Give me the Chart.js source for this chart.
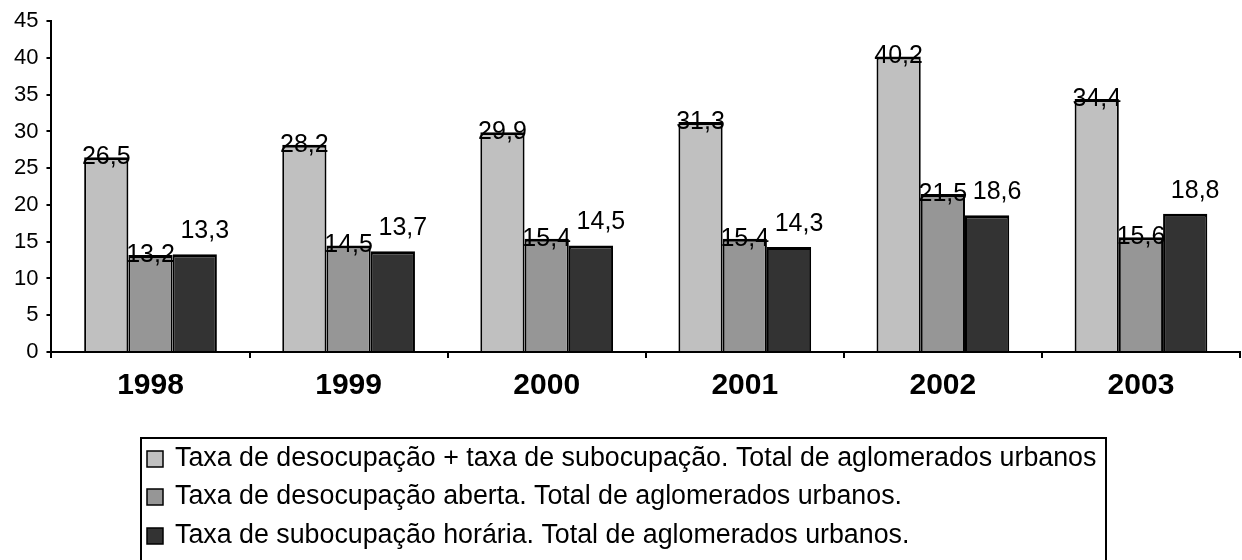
<!DOCTYPE html>
<html>
<head>
<meta charset="utf-8">
<script src="https://cdn.jsdelivr.net/npm/chart.js@4.4.0/dist/chart.umd.min.js"></script>
<style>
  html, body { margin: 0; padding: 0; background: #fff; }
  #wrap { width: 1242px; height: 560px; }
</style>
</head>
<body>
<div id="wrap"><canvas id="myChart" width="1242" height="560"></canvas></div>
<script>
const anos = ['1998', '1999', '2000', '2001', '2002', '2003'];
const desocupSubocup = [26.5, 28.2, 29.9, 31.3, 40.2, 34.4];
const desocupAberta = [13.2, 14.5, 15.4, 15.4, 21.5, 15.6];
const subocupHoraria = [13.3, 13.7, 14.5, 14.3, 18.6, 18.8];
const nomes = [
  'Taxa de desocupação + taxa de subocupação. Total de aglomerados urbanos',
  'Taxa de desocupação aberta. Total de aglomerados urbanos.',
  'Taxa de subocupação horária. Total de aglomerados urbanos.'
];
const cores = ['#c0c0c0', '#969696', '#333333'];

const fonte = 'Arial, "Liberation Sans", sans-serif';
Chart.defaults.font.family = fonte;
Chart.defaults.font.size = 22;
Chart.defaults.color = '#000';

// rótulos de valor (sem o plugin datalabels)
const rotulos = {
  id: 'rotulos',
  afterDatasetsDraw(chart, args, opts) {
    const ctx = chart.ctx;
    ctx.save();
    ctx.font = '25px ' + fonte;
    ctx.fillStyle = '#000';
    ctx.textAlign = 'center';
    ctx.textBaseline = 'middle';
    chart.data.datasets.forEach((ds, i) => {
      const off = opts.offsets[i];
      chart.getDatasetMeta(i).data.forEach((bar, j) => {
        const txt = String(ds.data[j]).replace('.', ',');
        ctx.fillText(txt, bar.x + off[0], bar.y + off[1]);
      });
    });
    ctx.restore();
  }
};

// legenda em caixa, um item por linha
const legendaCaixa = {
  id: 'legendaCaixa',
  afterDraw(chart, args, opts) {
    const ctx = chart.ctx;
    ctx.save();
    ctx.strokeStyle = '#000';
    ctx.lineWidth = 2;
    ctx.strokeRect(opts.left, opts.top, opts.right - opts.left, chart.height + 10 - opts.top);
    ctx.font = '26.8px ' + fonte;
    ctx.textBaseline = 'middle';
    ctx.textAlign = 'left';
    chart.data.datasets.forEach((ds, i) => {
      const y = opts.rows[i];
      ctx.fillStyle = ds.backgroundColor;
      ctx.fillRect(opts.left + 6, y - 8, 16, 16);
      ctx.lineWidth = 1.5;
      ctx.strokeRect(opts.left + 6, y - 8, 16, 16);
      ctx.fillStyle = '#000';
      ctx.fillText(ds.label, opts.left + 34, y);
    });
    ctx.restore();
  }
};

const borda = { top: 3, left: 2, right: 2, bottom: 0 };

new Chart(document.getElementById('myChart').getContext('2d'), {
  type: 'bar',
  data: {
    labels: anos,
    datasets: [
      { label: nomes[0], data: desocupSubocup, backgroundColor: cores[0], borderColor: '#000', borderWidth: borda },
      { label: nomes[1], data: desocupAberta, backgroundColor: cores[1], borderColor: '#000', borderWidth: borda },
      { label: nomes[2], data: subocupHoraria, backgroundColor: cores[2], borderColor: '#000', borderWidth: borda }
    ]
  },
  options: {
    responsive: false,
    animation: false,
    layout: { padding: { top: 20, left: 6, right: 2, bottom: 146 } },
    datasets: { bar: { categoryPercentage: 0.67, barPercentage: 1 } },
    scales: {
      x: {
        grid: { drawOnChartArea: false, color: '#000', lineWidth: 2, tickLength: 6 },
        border: { color: '#000', width: 2 },
        ticks: { font: { size: 30, weight: 'bold' }, padding: 10, color: '#000' }
      },
      y: {
        min: 0,
        max: 45,
        ticks: { stepSize: 5, padding: 8, color: '#000' },
        grid: { drawOnChartArea: false, color: '#000', lineWidth: 2, tickLength: 5 },
        border: { color: '#000', width: 2 }
      }
    },
    plugins: {
      legend: { display: false },
      tooltip: { enabled: false },
      rotulos: { offsets: [[0, 0], [0, 0], [10, -23]] },
      legendaCaixa: { left: 141, top: 438, right: 1106, rows: [459, 497, 536] }
    }
  },
  plugins: [rotulos, legendaCaixa]
});
</script>
</body>
</html>
